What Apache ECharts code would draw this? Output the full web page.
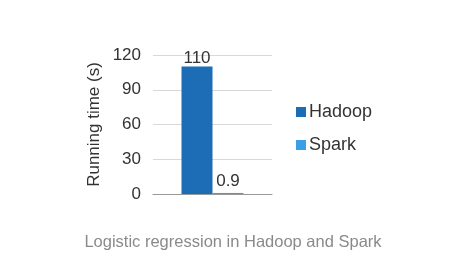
<!DOCTYPE html>
<html><head><meta charset="utf-8">
<script src="https://cdn.jsdelivr.net/npm/echarts@6/dist/echarts.min.js"></script>
<style>html,body{margin:0;padding:0;background:#fff}#c{width:466px;height:258px}</style>
</head><body><div id="c"></div>
<script>
const categories = ['Logistic regression'];
const seriesNames = ['Hadoop', 'Spark'];
const hadoopValues = [110];
const sparkValues = [0.9];
const yTicks = [0, 30, 60, 90, 120];
const colors = ['#1c6cb6', '#3a9fe6'];
const font = '"Liberation Sans", Arial, sans-serif';

const chart = echarts.init(document.getElementById('c'));
chart.setOption({
  animation: false,
  title: {
    text: 'Logistic regression in Hadoop and Spark',
    left: 'center', top: 229,
    textStyle: {color: '#8a8a8a', fontSize: 16.5, fontWeight: 'normal', fontFamily: font}
  },
  legend: {
    orient: 'vertical', left: 291, top: 98, itemGap: 15,
    itemWidth: 10, itemHeight: 10, icon: 'rect',
    textStyle: {color: '#333', fontSize: 18, fontFamily: font, padding: [0,0,0,-2]},
    data: seriesNames
  },
  grid: {left: 153, right: 194, top: 55, bottom: 64},
  xAxis: {
    type: 'category', data: categories,
    axisLine: {lineStyle: {color: '#999'}}, axisTick: {show: false}, axisLabel: {show: false}
  },
  yAxis: {
    type: 'value', min: yTicks[0], max: yTicks[yTicks.length-1], interval: 30,
    name: 'Running time (s)', nameLocation: 'middle', nameGap: 50, nameRotate: 90,
    nameTextStyle: {color: '#333', fontSize: 17, fontFamily: font},
    axisLine: {show: false}, axisTick: {show: false},
    axisLabel: {color: '#333', fontSize: 17, fontFamily: font, margin: 12},
    splitLine: {lineStyle: {color: '#d8d8d8'}}
  },
  series: [
    {name: seriesNames[0], type: 'bar', data: hadoopValues, barWidth: 31, barGap: '0%',
     itemStyle: {color: colors[0]},
     label: {show: true, position: 'top', distance: 0, color: '#333', fontSize: 17, fontFamily: font}},
    {name: seriesNames[1], type: 'bar', data: sparkValues, barWidth: 31,
     itemStyle: {color: colors[1]},
     label: {show: true, position: 'top', distance: 3, color: '#333', fontSize: 17, fontFamily: font}}
  ]
});
</script></body></html>
